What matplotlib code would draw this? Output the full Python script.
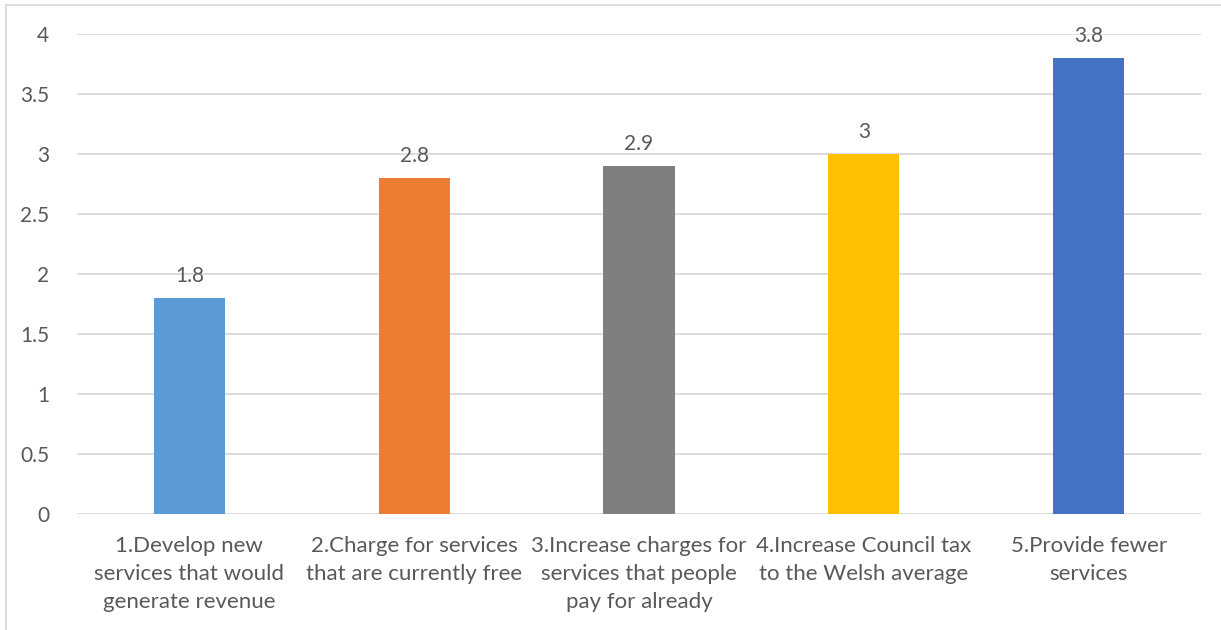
import matplotlib.pyplot as plt
from matplotlib.patches import Rectangle

# average ranking per option
categories = ['1.Develop new\nservices that would\ngenerate revenue',
              '2.Charge for services\nthat are currently free',
              '3.Increase charges for\nservices that people\npay for already',
              '4.Increase Council tax\nto the Welsh average',
              '5.Provide fewer\nservices']
values = [1.8, 2.8, 2.9, 3.0, 3.8]
value_labels = ['1.8', '2.8', '2.9', '3', '3.8']
colors = ['#5B9BD5', '#ED7D31', '#7F7F7F', '#FFC000', '#4472C4']
yticks = [0, 0.5, 1, 1.5, 2, 2.5, 3, 3.5, 4]
ytick_labels = ['0', '0.5', '1', '1.5', '2', '2.5', '3', '3.5', '4']

plt.rcParams['font.family'] = ['Lato', 'DejaVu Sans']
text_color = '#595959'

fig = plt.figure(figsize=(12.21, 6.30), dpi=100)
ax = fig.add_axes([77 / 1221, 116 / 630, 1124 / 1221, 480 / 630])

x = list(range(len(categories)))
bars = ax.bar(x, values, width=0.316, color=colors, zorder=3)

for b, lab in zip(bars, value_labels):
    ax.annotate(lab, (b.get_x() + b.get_width() / 2, b.get_height()),
                xytext=(0, 9), textcoords='offset points',
                ha='center', va='bottom', fontsize=15, color=text_color)

ax.set_xlim(-0.5, 4.5)
ax.set_ylim(0, 4)
ax.set_yticks(yticks)
ax.set_yticklabels(ytick_labels, fontsize=15, color=text_color)
ax.set_xticks(x)
ax.set_xticklabels(categories, fontsize=16, color=text_color, linespacing=1.5)
ax.tick_params(axis='both', length=0)
ax.tick_params(axis='y', pad=20)
ax.tick_params(axis='x', pad=16)
ax.grid(axis='y', color='#d9d9d9', linewidth=1.3, zorder=0)
for s in ax.spines.values():
    s.set_visible(False)

# outer chart border
fig.patches.append(Rectangle((6 / 1221, -0.1), 1.2, 1.1 - 5 / 630,
                             transform=fig.transFigure, fill=False,
                             edgecolor='#d9d9d9', linewidth=1.3))

fig.savefig('out.png', dpi=100)
